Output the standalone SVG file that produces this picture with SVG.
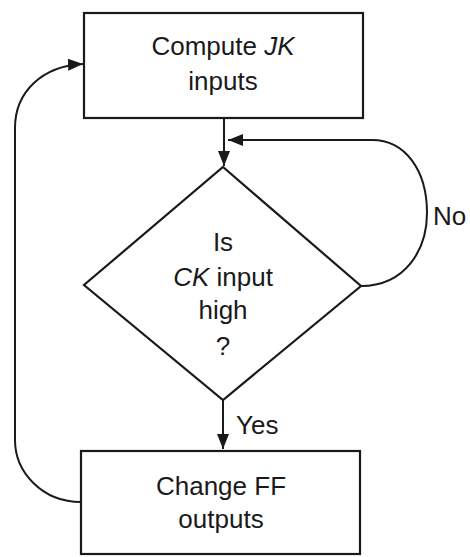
<svg xmlns="http://www.w3.org/2000/svg" width="470" height="557" viewBox="0 0 470 557">
<defs>
<style>
.box{fill:#fff;stroke:#1a1a1a;stroke-width:2.2}
.ln{fill:none;stroke:#1a1a1a;stroke-width:2}
text{font-family:"Liberation Sans",Arial,sans-serif;font-size:26px;fill:#1a1a1a;text-anchor:middle}
.lbl{text-anchor:start}
.it{font-style:italic}
</style>
<marker id="ah" viewBox="0 0 10 10" refX="10" refY="5" markerWidth="15" markerHeight="12" markerUnits="userSpaceOnUse" orient="auto" preserveAspectRatio="none">
<path d="M0,0 L10,5 L0,10 Z" fill="#1a1a1a"/>
</marker>
</defs>
<rect width="470" height="557" fill="#fff"/>
<g id="connectors">
<path class="ln" d="M224,118 L224,166" marker-end="url(#ah)"/>
<path class="ln" d="M361,286 C405,286 427,250 427,213 C427,170 405,140 372,140 L228,140" marker-end="url(#ah)"/>
<path class="ln" d="M223,400 L223,449" marker-end="url(#ah)"/>
<path class="ln" d="M81,502 C42,502 15,472 15,440 L15,128 C15,92 42,66 83,64" marker-end="url(#ah)"/>
<text class="lbl" x="433" y="225">No</text>
<text class="lbl" x="236" y="434">Yes</text>
</g>
<g id="compute">
<rect class="box" x="84" y="13" width="279" height="105"/>
<text x="223" y="55">Compute <tspan class="it">JK</tspan></text>
<text x="223" y="90">inputs</text>
</g>
<g id="decision">
<path class="box" d="M223,167 L361,286 L223,400 L84,285 Z"/>
<text x="223" y="251">Is</text>
<text x="223" y="286"><tspan class="it">CK</tspan> input</text>
<text x="223" y="319">high</text>
<text x="223" y="355">?</text>
</g>
<g id="change">
<rect class="box" x="81" y="451" width="279" height="103"/>
<text x="221" y="495">Change FF</text>
<text x="221" y="528">outputs</text>
</g>
</svg>
